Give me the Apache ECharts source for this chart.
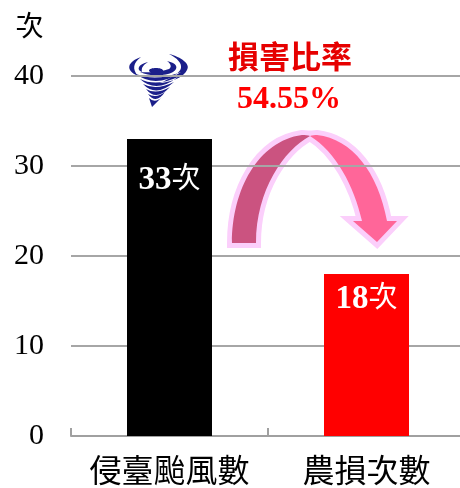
<!DOCTYPE html>
<html>
<head>
<meta charset="utf-8">
<style>
  html, body { margin: 0; padding: 0; background: #fff; overflow: hidden; }
  #main { width: 460px; height: 488px; }
</style>
<script src="https://cdn.jsdelivr.net/npm/echarts@6/dist/echarts.min.js"></script>
</head>
<body>
<div id="main"></div>
<script>
const categories = ['侵臺颱風數', '農損次數'];
const counts = [33, 18];
const barColors = ['#000000', '#FF0000'];
const labelGaps = [25, 9];//每根柱子的標籤距離
const yTicks = [0, 10, 20, 30, 40];
const unit = '次';
const ratioTitle = '損害比率';
const ratioValue = '54.55%';

const serif = '"Liberation Serif", "Noto Sans CJK TC", serif';

// 箭頭與龍捲風圖示(裝飾,不是資料)
const arrowLeft = 'M232,243 C232,190 258,141 302,135 C305,135 308,135 310,136 C284,150 256,190 256,243 Z';
const arrowRight = 'M317,135 C352,139 378,172 387,221 L397,221 L377,242 L353,221 L362,221 C354,186 336,152 310,136 C312,135 315,135 317,135 Z';
const tornadoPath = [
  'M141,57 C127,62 125,70 138,76 C132,69 133,63 141,57 Z',
  'M148,62 C138,64 136,70 142,72 C141,68 143,65 148,62 Z',
  'M149,70.5 C149,67 163,67 163,70.5 C163,74 149,74 149,70.5 Z',
  'M169,54 C181,57 191,64 187,70 C184,77 172,82 160,83 C171,78 180,73 181,68 C182,63 177,58 169,54 Z',
  'M167,61 C177,63 179,68 173,72 C166,76 150,77 140,72 C150,73 164,71 169,69 C172,67 171,64 167,61 Z',
  'M136,74 Q156,89 181,72 Q156,82 136,74 Z',
  'M140,79 Q156,94 178,77 Q156,87 140,79 Z',
  'M143,84 Q156,98 174,82 Q156,91 143,84 Z',
  'M146,89 Q156,102 170,87 Q156,95 146,89 Z',
  'M148,94 Q156,105 165,92 Q156,99 148,94 Z',
  'M149,98 Q155,104 162,97 L152,107 Z'
].join(' ');

echarts.graphic.registerShape('arrowLeft', echarts.graphic.extendPath(arrowLeft, {}));
echarts.graphic.registerShape('arrowRight', echarts.graphic.extendPath(arrowRight, {}));
echarts.graphic.registerShape('tornado', echarts.graphic.extendPath(tornadoPath, {}));

const chart = echarts.init(document.getElementById('main'), null, { renderer: 'canvas' });

chart.setOption({
  animation: false,
  grid: { left: 71, width: 394, top: 76, bottom: 52, outerBoundsMode: 'none' },
  xAxis: {
    type: 'category',
    data: categories,
    axisLine: { lineStyle: { color: '#A0A0A0', width: 2 } },
    axisTick: { show: true, inside: true, length: 8, lineStyle: { color: '#A0A0A0', width: 2 } },
    axisLabel: { color: '#000', fontSize: 32, fontFamily: serif, margin: 22, interval: 0 }
  },
  yAxis: {
    type: 'value',
    min: 0,
    max: 40,
    interval: 10,
    name: unit,
    nameLocation: 'end',
    nameGap: 33,
    nameTextStyle: { color: '#000', fontSize: 28, fontFamily: serif, align: 'center', padding: [0, 83, 0, 0] },
    axisLine: { show: false },
    axisTick: { show: false },
    axisLabel: { color: '#000', fontSize: 30, fontFamily: serif, margin: 27, customValues: yTicks },
    splitLine: { lineStyle: { color: '#A6A6A6', width: 2 } }
  },
  series: [{
    type: 'bar',
    barWidth: 85,
    data: counts.map((v, i) => ({
      value: v,
      itemStyle: { color: barColors[i] },
      label: {
        show: true,
        position: 'insideTop',
        distance: labelGaps[i],
        formatter: '{n|' + v + '}{u|' + unit + '}',
        rich: {
          n: { color: '#fff', fontSize: 33, fontWeight: 'bold', fontFamily: serif },
          u: { color: '#fff', fontSize: 29, fontFamily: serif }
        }
      }
    }))
  }],
  graphic: [
    { type: 'tornado', silent: true, style: { fill: '#1B1F8A' } },
    { type: 'arrowLeft', silent: true, style: { fill: '#FBCFFB', stroke: '#FBCFFB', lineWidth: 10, lineJoin: 'miter', miterLimit: 4 } },
    { type: 'arrowRight', silent: true, style: { fill: '#FBCFFB', stroke: '#FBCFFB', lineWidth: 10, lineJoin: 'miter', miterLimit: 4 } },
    { type: 'arrowLeft', silent: true, style: { fill: '#CB5380' } },
    { type: 'arrowRight', silent: true, style: { fill: '#FF6699' } },
    {
      type: 'text', silent: true, x: 290, y: 60,
      style: { text: ratioTitle, fill: '#E60000', font: 'bold 31px ' + serif, align: 'center', verticalAlign: 'middle' }
    },
    {
      type: 'text', silent: true, x: 289, y: 100,
      style: { text: ratioValue, fill: '#FF0000', font: 'bold 32px ' + serif, align: 'center', verticalAlign: 'middle' }
    }
  ]
});
</script>
</body>
</html>
